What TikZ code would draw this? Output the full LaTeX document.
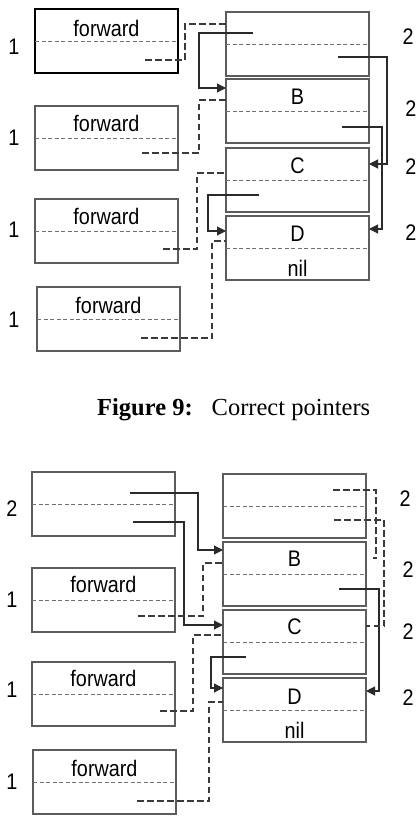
\documentclass[tikz,border=0pt]{standalone}
\usepackage{fontspec}
\setmainfont{Liberation Serif}
\newfontfamily\lsans[FakeStretch=0.88]{Liberation Sans}
\usetikzlibrary{arrows.meta}
\definecolor{boxgray}{HTML}{5C5C5C}
\definecolor{divgray}{HTML}{707070}
\definecolor{ptrgray}{HTML}{2A2A2A}
\definecolor{dgray}{HTML}{3A3A3A}
\begin{document}
\begin{tikzpicture}[x=1pt,y=-1pt,
  box/.style={draw=boxgray, line width=1.1pt, minimum width=143pt, minimum height=64pt, anchor=north west, inner sep=0pt, outer sep=0pt},
  thickbox/.style={box, draw=black, line width=2.2pt},
  divider/.style={draw=divgray, line width=0.9pt, dash pattern=on 4pt off 2.5pt},
  ptr/.style={draw=ptrgray, line width=1.1pt, -{Triangle[length=9pt,width=9pt]}},
  dptr/.style={draw=dgray, line width=1.1pt, dash pattern=on 6.5pt off 3.5pt},
  txt/.style={font=\lsans\fontsize{22.5}{26}\selectfont, inner sep=0pt},
  lbl/.style={font=\lsans\fontsize{22.5}{26}\selectfont, inner sep=0pt}]
\useasboundingbox (0,0) rectangle (418,816);

% ---------------- top figure ----------------
\node[thickbox] (L1) at (35,9) {};
\node[box] (L2) at (35,106) {};
\node[box] (L3) at (35,199) {};
\node[box] (L4) at (37,287) {};
\node[box] (A) at (226,12) {};
\node[box] (B) at (226,79) {};
\node[box] (C) at (226,148) {};
\node[box] (D) at (226,216) {};
\foreach \n in {L1,L2,L3,L4,A,B,C,D} \draw[divider] (\n.west) -- (\n.east);

\node[txt] (L1t) at ([yshift=-19.5pt]L1.north) {forward};
\node[txt] (L2t) at ([yshift=-17pt]L2.north) {forward};
\node[txt] (L3t) at ([yshift=-17pt]L3.north) {forward};
\node[txt] (L4t) at ([yshift=-18pt]L4.north) {forward};
\node[txt] (Bt) at ([yshift=-17.5pt]B.north) {B};
\node[txt] (Ct) at ([yshift=-17.5pt]C.north) {C};
\node[txt] (Dt) at ([yshift=-18pt]D.north) {D};
\node[txt] (Dn) at ([yshift=-52pt]D.north) {nil};

\node[lbl] (l1) at (14,47) {1};
\node[lbl] (l2) at (14,138) {1};
\node[lbl] (l3) at (14,230) {1};
\node[lbl] (l4) at (14,320) {1};
\node[lbl] (r1) at (408,37) {2};
\node[lbl] (r2) at (411,109) {2};
\node[lbl] (r3) at (411,167) {2};
\node[lbl] (r4) at (411,233) {2};

% solid pointers
\coordinate (s1) at (253,33);
\coordinate (s2) at (338,57);
\coordinate (s3) at (342,127);
\coordinate (s4) at (259,195);
\draw[ptr] (s1) -- (199,33) |- ([yshift=-9pt]B.north west);
\draw[ptr] (s2) -- (387,57) |- ([yshift=-16pt]C.north east);
\draw[ptr] (s3) -- (382,127) |- ([yshift=-13pt]D.north east);
\draw[ptr] (s4) -- (208,195) |- ([yshift=-15pt]D.north west);
% dashed pointers
\coordinate (p1) at (145,60);
\coordinate (p2) at (142,153);
\coordinate (p3) at (163,249);
\coordinate (p4) at (141,338);
\draw[dptr] (p1) -- (185,60) |- ([yshift=-12pt]A.north west);
\draw[dptr] (p2) -- (199,153) |- ([yshift=-21pt]B.north west);
\draw[dptr] (p3) -- (197,249) |- ([yshift=-25pt]C.north west);
\draw[dptr] (p4) -- (212,338) |- ([yshift=-25pt]D.north west);

% caption
\node[anchor=base west, inner sep=0pt, font=\fontsize{24.5}{28}\selectfont] (cap) at (97,415) {\textbf{Figure 9:}\hspace{19pt}Correct pointers};

% ---------------- bottom figure ----------------
\node[box] (M1) at (32,472) {};
\node[box] (M2) at (32,568) {};
\node[box] (M3) at (32,662) {};
\node[box] (M4) at (33,750) {};
\node[box] (A2) at (223,474) {};
\node[box] (B2) at (223,542) {};
\node[box] (C2) at (223,610) {};
\node[box] (D2) at (223,678) {};
\foreach \n in {M1,M2,M3,M4,A2,B2,C2,D2} \draw[divider] (\n.west) -- (\n.east);

\node[txt] (M2t) at ([yshift=-16pt]M2.north) {forward};
\node[txt] (M3t) at ([yshift=-16pt]M3.north) {forward};
\node[txt] (M4t) at ([yshift=-18pt]M4.north) {forward};
\node[txt] (B2t) at ([yshift=-17pt]B2.north) {B};
\node[txt] (C2t) at ([yshift=-17pt]C2.north) {C};
\node[txt] (D2t) at ([yshift=-18.5pt]D2.north) {D};
\node[txt] (D2n) at ([yshift=-52.5pt]D2.north) {nil};

\node[lbl] (m1) at (12,509) {2};
\node[lbl] (m2) at (12,600) {1};
\node[lbl] (m3) at (12,690) {1};
\node[lbl] (m4) at (12,782) {1};
\node[lbl] (q1) at (405,499) {2};
\node[lbl] (q2) at (408,570) {2};
\node[lbl] (q3) at (408,632) {2};
\node[lbl] (q4) at (408,698) {2};

% solid pointers
\coordinate (t1) at (130,493);
\coordinate (t2) at (133,522);
\coordinate (t3) at (339,589);
\coordinate (t4) at (246,657);
\draw[ptr] (t1) -- (198,493) |- ([yshift=-8pt]B2.north west);
\draw[ptr] (t2) -- (184,522) |- ([yshift=-15pt]C2.north west);
\draw[ptr] (t3) -- (379,589) |- ([yshift=-13pt]D2.north east);
\draw[ptr] (t4) -- (211,657) |- ([yshift=-10pt]D2.north west);
% dashed pointers
\coordinate (u1) at (138,616);
\coordinate (u2) at (160,711);
\coordinate (u3) at (137,801);
\coordinate (u4) at (333,490);
\coordinate (u4e) at (373,558);
\coordinate (u5) at (334,520);
\draw[dptr] (u1) -- (203,616) |- ([yshift=-21pt]B2.north west);
\draw[dptr] (u2) -- (193,711) |- ([yshift=-25pt]C2.north west);
\draw[dptr] (u3) -- (209,801) |- ([yshift=-24pt]D2.north west);
\draw[dptr] (u4) -- (376,490) |- (u4e);
\draw[dptr] (u5) -- (384,520) |- ([yshift=-16pt]C2.north east);
\end{tikzpicture}
\end{document}
